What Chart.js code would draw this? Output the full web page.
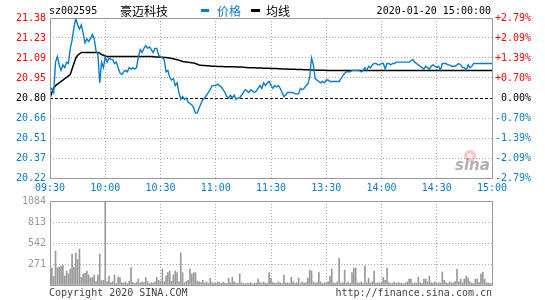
<!DOCTYPE html>
<html><head><meta charset="utf-8">
<script src="https://cdn.jsdelivr.net/npm/chart.js@4/dist/chart.umd.min.js"></script>
<style>
html,body{margin:0;padding:0;background:#fff;width:545px;height:300px;overflow:hidden}
#wrap{position:relative;width:545px;height:300px}
#cp{position:absolute;left:0;top:0}
#cv{position:absolute;left:0;top:190px}
</style></head><body>
<div id="wrap"><canvas id="cp" width="545" height="200"></canvas><canvas id="cv" width="545" height="110"></canvas></div>
<script>
const stockCode = 'sz002595';
const stockName = '豪迈科技';
const legendLabels = ['价格', '均线'];
const dateTime = '2020-01-20 15:00:00';
const copyrightText = 'Copyright 2020 SINA.COM';
const siteText = 'http://finance.sina.com.cn';
const preClose = 20.80;
const priceMin = 20.22, priceMax = 21.38;
const volMax = 1084;
const timeLabels = ['09:30','10:00','10:30','11:00','11:30','13:30','14:00','14:30','15:00'];
const priceTickLabels = ['21.38','21.23','21.09','20.95','20.80','20.66','20.51','20.37','20.22'];
const pctTickLabels = ['+2.79%','+2.09%','+1.39%','+0.70%','0.00%','-0.70%','-1.39%','-2.09%','-2.79%'];
const volTickLabels = ['1084','813','542','271',''];

const prices = [
20.85,20.87,20.84,21.06,21.10,21.04,21.00,21.04,21.02,21.06,
21.05,21.16,21.22,21.31,21.38,21.33,21.30,21.33,21.27,21.20,
21.23,21.21,21.23,21.26,21.23,21.14,21.12,20.91,21.06,21.02,
21.10,21.06,21.09,21.08,21.08,21.05,21.06,21.02,20.98,20.97,
20.99,21.00,20.99,21.02,21.01,21.02,21.01,21.02,21.10,21.15,
21.13,21.16,21.18,21.16,21.17,21.15,21.13,21.16,21.16,21.11,
21.10,21.09,21.08,20.99,21.00,20.95,20.93,20.94,20.89,20.91,
20.84,20.79,20.81,20.79,20.80,20.77,20.76,20.75,20.73,20.69,
20.69,20.73,20.76,20.79,20.80,20.82,20.84,20.86,20.89,20.89,
20.89,20.90,20.89,20.88,20.86,20.84,20.81,20.80,20.82,20.80,
20.82,20.79,20.80,20.80,20.82,20.84,20.86,20.85,20.84,20.86,
20.85,20.84,20.85,20.87,20.89,20.87,20.91,20.89,20.91,20.92,
20.89,20.87,20.89,20.88,20.89,20.87,20.84,20.81,20.82,20.84,
20.84,20.84,20.84,20.83,20.83,20.83,20.87,20.86,20.87,20.89,
20.90,20.95,21.09,21.04,20.94,20.93,20.92,20.91,20.92,20.91,
20.93,20.93,20.92,20.92,20.92,20.92,20.92,20.92,20.94,20.96,
20.98,20.99,20.99,20.99,21.00,21.00,21.00,21.00,21.00,20.99,
21.00,21.02,21.00,21.03,21.02,21.04,21.05,21.05,21.04,21.04,
21.05,21.05,21.01,21.05,21.05,21.04,21.05,21.05,21.06,21.06,
21.06,21.06,21.06,21.06,21.06,21.06,21.07,21.08,21.06,21.05,
21.04,21.03,21.02,21.01,21.03,21.02,21.01,21.03,21.04,21.03,
21.02,21.03,21.00,21.05,21.05,21.05,21.04,21.04,21.03,21.03,
21.03,21.04,21.05,21.04,21.02,21.02,21.00,21.04,21.02,21.03,
21.05,21.05,21.05,21.05,21.05,21.05,21.05,21.05,21.05,21.05,
21.05
];

const avgPrices = [
20.80,20.84,20.87,20.89,20.90,20.91,20.92,20.93,20.94,20.95,
20.96,20.97,21.01,21.05,21.09,21.11,21.12,21.13,21.13,21.13,
21.13,21.13,21.13,21.13,21.13,21.13,21.13,21.125,21.115,21.11,
21.105,21.10,21.10,21.10,21.10,21.10,21.10,21.10,21.10,21.10,
21.10,21.10,21.10,21.10,21.10,21.10,21.10,21.10,21.10,21.10,
21.10,21.10,21.10,21.10,21.10,21.10,21.10,21.098,21.097,21.097,
21.096,21.095,21.094,21.093,21.092,21.09,21.087,21.084,21.081,21.078,
21.074,21.07,21.065,21.063,21.061,21.059,21.057,21.055,21.054,21.05,
21.045,21.04,21.038,21.036,21.035,21.034,21.033,21.032,21.031,21.03,
21.03,21.029,21.029,21.028,21.028,21.027,21.027,21.027,21.026,21.026,
21.026,21.025,21.025,21.025,21.024,21.023,21.022,21.021,21.02,21.02,
21.019,21.019,21.018,21.018,21.017,21.017,21.016,21.016,21.015,21.015,
21.014,21.014,21.013,21.013,21.012,21.012,21.011,21.011,21.01,21.01,
21.009,21.009,21.008,21.008,21.007,21.007,21.006,21.006,21.005,21.005,
21.004,21.004,21.003,21.003,21.002,21.002,21.002,21.001,21.001,21.001,
21.00,21.00,21.00,21.00,21.00,21.00,21.00,21.00,21.00,21.00,
21.00,21.00,21.00,21.00,21.00,21.00,21.00,21.00,21.00,21.00,
21.00,21.00,21.00,21.00,21.00,21.00,21.00,21.00,21.00,21.00,
21.00,21.00,21.00,21.00,21.00,21.00,21.00,21.00,21.00,21.00,
21.00,21.00,21.00,21.00,21.00,21.00,21.00,21.00,21.00,21.00,
21.00,21.00,21.00,21.00,21.00,21.00,21.00,21.00,21.00,21.00,
21.00,21.00,21.00,21.00,21.00,21.00,21.00,21.00,21.00,21.00,
21.00,21.00,21.00,21.00,21.00,21.00,21.00,21.00,21.00,21.00,
21.00,21.00,21.00,21.00,21.00,21.00,21.00,21.00,21.00,21.00,
21.00
];

const volumes = [
180,215,110,438,224,230,245,258,116,180,
142,206,400,228,413,327,465,99,142,150,
180,129,90,99,129,45,129,400,55,60,
1084,40,116,30,45,129,20,107,95,30,
25,40,20,50,224,30,20,35,77,25,
40,30,99,45,20,30,25,40,99,60,
50,206,40,116,159,180,50,129,180,159,
40,413,159,30,45,60,206,142,159,159,
50,40,30,60,25,40,20,86,30,25,
20,40,30,20,35,25,20,86,30,99,
40,25,20,142,30,20,15,25,20,30,
15,20,25,77,30,20,40,25,20,159,
86,30,25,20,40,30,20,129,25,30,
20,99,40,25,30,90,20,40,25,30,
90,193,180,40,25,30,159,40,20,30,
25,40,116,206,30,20,40,344,25,30,
193,25,40,20,159,219,219,30,25,40,
20,245,30,86,25,40,180,20,30,25,
40,99,60,219,30,20,25,40,20,30,
25,20,15,25,40,77,77,20,30,25,
99,30,20,77,77,40,116,30,25,40,
20,30,25,168,60,30,20,40,25,30,
45,206,40,77,30,77,116,90,40,25,
20,77,77,30,142,168,77,30,25,20,
15
];

const MONO = "'DejaVu Sans Mono', monospace";
const CJK = "'Noto Sans CJK SC', sans-serif";
const BLUE = '#0a7cc8';
const RED = '#ff0000';
const GRID = '#aaaaaa';
const FRAME = '#999999';
const monoFont = {family: MONO, size: 10};

function tickColor(i){ return i < 4 ? RED : (i === 4 ? '#000000' : BLUE); }
function zeroPad(s){ s.paddingTop = 0; s.paddingBottom = 0; s.paddingLeft = 0; s.paddingRight = 0; }

const priceDecor = {
  id: 'priceDecor',
  beforeDatasetsDraw(chart) {
    const {ctx, chartArea: a, scales} = chart;
    const y = Math.round(scales.y.getPixelForValue(preClose)) + 0.5;
    ctx.save();
    ctx.strokeStyle = '#000'; ctx.lineWidth = 1; ctx.setLineDash([3, 2]);
    ctx.beginPath(); ctx.moveTo(a.left, y); ctx.lineTo(a.right, y); ctx.stroke();
    ctx.restore();
    // watermark
    ctx.save();
    ctx.fillStyle = 'rgba(235,130,130,0.45)';
    ctx.beginPath(); ctx.arc(470, 156, 6, 0, Math.PI * 2); ctx.fill();
    ctx.fillStyle = 'rgba(255,255,255,0.8)';
    ctx.beginPath(); ctx.arc(470, 156, 2.5, 0, Math.PI * 2); ctx.fill();
    ctx.font = "italic bold 15px 'DejaVu Sans', sans-serif";
    ctx.fillStyle = 'rgba(150,150,150,0.75)';
    ctx.textBaseline = 'middle'; ctx.textAlign = 'left';
    ctx.fillText('sina', 455, 166);
    ctx.restore();
  },
  afterDraw(chart) {
    const {ctx, chartArea: a} = chart;
    ctx.save();
    ctx.strokeStyle = FRAME; ctx.lineWidth = 1;
    ctx.strokeRect(a.left + 0.5, a.top + 0.5, a.right - a.left, a.bottom - a.top);
    ctx.textBaseline = 'middle'; ctx.textAlign = 'left';
    ctx.fillStyle = '#000';
    ctx.font = '10px ' + MONO; ctx.fillText(stockCode, 49, 11);
    ctx.font = '12px ' + CJK; ctx.fillText(stockName, 120, 11);
    ctx.fillStyle = BLUE; ctx.fillRect(201, 9, 8, 3);
    ctx.fillText(legendLabels[0], 217, 11);
    ctx.fillStyle = '#000'; ctx.fillRect(251, 9, 9, 3);
    ctx.fillText(legendLabels[1], 266, 11);
    ctx.font = '10px ' + MONO; ctx.textAlign = 'right';
    ctx.fillText(dateTime, 491, 11);
    ctx.restore();
  }
};

new Chart(document.getElementById('cp'), {
  data: {
    datasets: [
      { type: 'line', label: legendLabels[0], data: prices.map((p, i) => ({x: i, y: p})),
        borderColor: BLUE, borderWidth: 1.4, pointRadius: 0, tension: 0, yAxisID: 'y' },
      { type: 'line', label: legendLabels[1], data: avgPrices.map((p, i) => ({x: i, y: p})),
        borderColor: '#000000', borderWidth: 1.5, pointRadius: 0, tension: 0, yAxisID: 'y' }
    ]
  },
  options: {
    responsive: false, animation: false, devicePixelRatio: 1,
    layout: { autoPadding: false, padding: { top: 18, right: 14, bottom: 0, left: 0 } },
    plugins: { legend: { display: false }, tooltip: { enabled: false } },
    scales: {
      x: { type: 'linear', min: 0, max: 240,
        afterBuildTicks: s => { s.ticks = timeLabels.map((t, i) => ({ value: i * 30 })); },
        ticks: { callback: (v, i) => timeLabels[i], color: BLUE, font: monoFont, padding: 4, maxRotation: 0, autoSkip: false },
        grid: { color: c => (c.index === 0 || c.index === 8) ? 'rgba(0,0,0,0)' : GRID, drawTicks: false, lineWidth: 1 },
        border: { display: false, dash: [1, 2] },
        afterFit: s => { s.height = 22; zeroPad(s); }
      },
      y: { position: 'left', min: priceMin, max: priceMax,
        afterBuildTicks: s => { s.ticks = priceTickLabels.map((t, i) => ({ value: priceMax - i * (priceMax - priceMin) / 8 })); },
        ticks: { callback: (v, i) => priceTickLabels[i], color: c => tickColor(c.index), font: monoFont, padding: 4, autoSkip: false },
        grid: { color: c => (c.index === 0 || c.index === 4 || c.index === 8) ? 'rgba(0,0,0,0)' : GRID, drawTicks: false, lineWidth: 1 },
        border: { display: false, dash: [1, 2] },
        afterFit: s => { s.width = 50; zeroPad(s); }
      },
      yR: { position: 'right', min: priceMin, max: priceMax,
        afterBuildTicks: s => { s.ticks = pctTickLabels.map((t, i) => ({ value: priceMax - i * (priceMax - priceMin) / 8 })); },
        ticks: { callback: (v, i) => pctTickLabels[i], color: c => tickColor(c.index), font: monoFont, padding: 2, crossAlign: 'far', autoSkip: false },
        grid: { display: false, drawTicks: false },
        border: { display: false },
        afterFit: s => { s.width = 39; zeroPad(s); }
      }
    }
  },
  plugins: [priceDecor]
});

const volDecor = {
  id: 'volDecor',
  afterDraw(chart) {
    const {ctx, chartArea: a} = chart;
    ctx.save();
    ctx.strokeStyle = FRAME; ctx.lineWidth = 1;
    ctx.strokeRect(a.left + 0.5, a.top + 0.5, a.right - a.left, a.bottom - a.top);
    ctx.fillStyle = '#444';
    ctx.font = '10px ' + MONO; ctx.textBaseline = 'middle';
    ctx.textAlign = 'left'; ctx.fillText(copyrightText, 49, 103);
    ctx.textAlign = 'right'; ctx.fillText(siteText, 492, 103);
    ctx.restore();
  }
};

new Chart(document.getElementById('cv'), {
  type: 'bar',
  data: {
    datasets: [
      { data: volumes.map((v, i) => ({x: i, y: v})), backgroundColor: '#999999', barThickness: 1, grouped: false }
    ]
  },
  options: {
    responsive: false, animation: false, devicePixelRatio: 1,
    layout: { autoPadding: false, padding: { top: 11, right: 53, bottom: 15, left: 0 } },
    plugins: { legend: { display: false }, tooltip: { enabled: false } },
    scales: {
      x: { type: 'linear', min: 0, max: 240, offset: false,
        afterBuildTicks: s => { s.ticks = timeLabels.map((t, i) => ({ value: i * 30 })); },
        ticks: { display: false },
        grid: { color: c => (c.index === 0 || c.index === 8) ? 'rgba(0,0,0,0)' : GRID, drawTicks: false, lineWidth: 1, offset: false },
        border: { display: false, dash: [1, 2] },
        afterFit: s => { s.height = 0; zeroPad(s); }
      },
      y: { position: 'left', min: 0, max: volMax,
        afterBuildTicks: s => { s.ticks = volTickLabels.map((t, i) => ({ value: volMax - i * volMax / 4 })); },
        ticks: { callback: (v, i) => volTickLabels[i], color: '#999999', font: monoFont, padding: 4, autoSkip: false },
        grid: { color: c => (c.index === 0 || c.index === 4) ? 'rgba(0,0,0,0)' : GRID, drawTicks: false, lineWidth: 1 },
        border: { display: false, dash: [1, 2] },
        afterFit: s => { s.width = 50; zeroPad(s); }
      }
    }
  },
  plugins: [volDecor]
});
</script>
</body></html>
